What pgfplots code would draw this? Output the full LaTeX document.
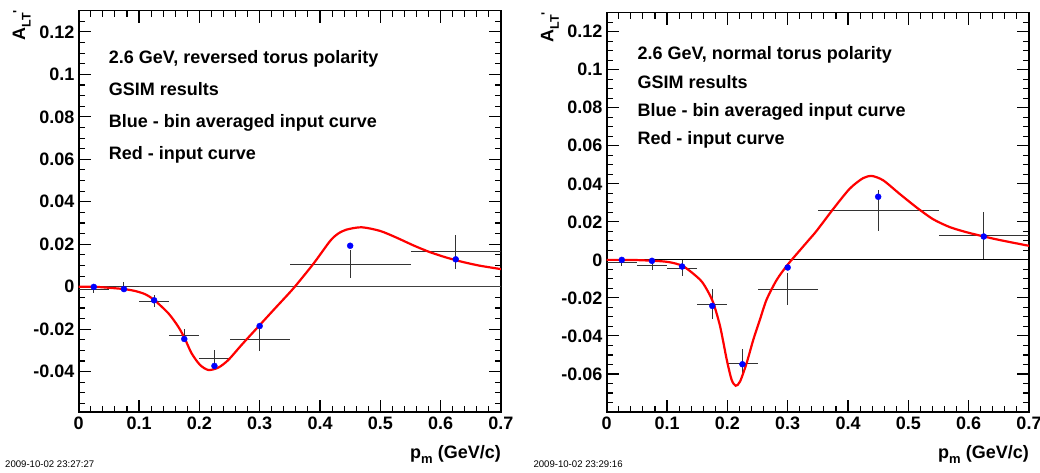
\documentclass[border=0pt]{standalone}
\usepackage{fontspec}
\setmainfont{Liberation Sans}
\usepackage{pgfplots}
\pgfplotsset{compat=1.18}
\usepackage{pgfplotstable}
\newcommand\bigb{\fontsize{18}{21}\selectfont\bfseries}
\newcommand\stamp{\fontsize{9.6}{11}\selectfont}

% ---- left pad: reversed torus polarity ----
\pgfplotstableread{
x y
0 0
0.025 -0.0000
0.05 -0.0005
0.075 -0.0011
0.0933 -0.0020
0.11 -0.0035
0.1254 -0.0063
0.1486 -0.0125
0.165 -0.0188
0.1762 -0.0246
0.187 -0.0313
0.201 -0.0368
0.2149 -0.0392
0.2314 -0.0381
0.248 -0.0345
0.270 -0.0274
0.2977 -0.0188
0.3254 -0.0102
0.3558 -0.0008
0.389 0.0108
0.4166 0.0215
0.43 0.0250
0.444 0.0269
0.469 0.0280
0.4994 0.0263
0.527 0.0231
0.5546 0.0195
0.582 0.0163
0.61 0.0137
0.6375 0.0116
0.665 0.0099
0.7 0.0083
}\Lcurve
\pgfplotstableread{
x y
0.025 -0.0001
0.075 -0.0011
0.125 -0.0064
0.175 -0.0246
0.225 -0.0373
0.3 -0.0185
0.45 0.0193
0.625 0.0129
}\Lblue
\pgfplotstableread{
x y ex ey
0.025 -0.0011 0.025 0.0018
0.075 0.0003 0.025 0.0021
0.125 -0.0067 0.025 0.0028
0.175 -0.0229 0.025 0.0029
0.225 -0.0336 0.025 0.0040
0.3 -0.0246 0.05 0.0058
0.45 0.0107 0.1 0.0064
0.625 0.0165 0.075 0.0080
}\Lgsim

% ---- right pad: normal torus polarity ----
\pgfplotstableread{
x y
0 0
0.05 -0.0001
0.0995 -0.0010
0.127 -0.0034
0.1547 -0.0104
0.166 -0.0156
0.1767 -0.0226
0.188 -0.0350
0.199 -0.0525
0.207 -0.0630
0.2138 -0.0662
0.221 -0.0640
0.232 -0.0542
0.243 -0.0420
0.254 -0.0314
0.265 -0.0209
0.282 -0.0104
0.30 -0.0025
0.3204 0.0051
0.337 0.0112
0.348 0.0153
0.376 0.0270
0.403 0.0375
0.425 0.0430
0.44 0.0441
0.4585 0.0418
0.486 0.0346
0.514 0.0275
0.541 0.0214
0.569 0.0172
0.597 0.0145
0.624 0.0124
0.652 0.0104
0.7 0.0074
}\Rcurve
\pgfplotstableread{
x y
0.025 0.0000
0.075 -0.0005
0.125 -0.0035
0.175 -0.0242
0.225 -0.0549
0.3 -0.0040
0.45 0.0332
0.625 0.0123
}\Rblue
\pgfplotstableread{
x y ex ey
0.025 -0.0012 0.025 0.0018
0.075 -0.0027 0.025 0.0028
0.125 -0.0044 0.025 0.0042
0.175 -0.0233 0.025 0.0080
0.225 -0.0544 0.025 0.0077
0.3 -0.0153 0.05 0.0084
0.45 0.0261 0.1 0.0108
0.625 0.0129 0.075 0.0122
}\Rgsim

\pgfplotsset{
  rootpad/.style={
    scale only axis, width=422.3pt,
    anchor=south west,
    xmin=0, xmax=0.7,
    xtick={0,0.1,0.2,0.3,0.4,0.5,0.6,0.7},
    minor xtick={0,0.02,...,0.70},
    scaled ticks=false,
    tick align=inside,
    major tick length=12pt, minor tick length=6pt,
    axis line style={line width=1.6pt},
    tick style={black, line width=1.1pt},
    tick label style={font=\bigb},
    /pgf/number format/assume math mode=true,
    /pgf/number format/fixed,
    /pgf/number format/precision=2,
    yticklabel style={inner sep=0pt, xshift=-4pt},
    xticklabel style={inner sep=0pt, yshift=-4.5pt},
  },
  zeroline/.style={black!75, line width=1pt},
  gsim/.style={draw=none, mark=none, forget plot,
    error bars/.cd, x dir=both, x explicit, y dir=both, y explicit,
    error mark=none, error bar style={draw=black!80, solid, line width=0.9pt}},
  incurve/.style={red, line width=2.2pt, smooth, tension=0.45, mark=none},
  binav/.style={only marks, mark=*, mark size=3pt, color=blue, fill=blue},
}

\begin{document}
\begin{tikzpicture}
\useasboundingbox (0,0) rectangle (1040pt,472pt);

\begin{axis}[rootpad, at={(78.7pt,60pt)}, height=401.3pt,
  ymin=-0.059, ymax=0.13,
  ytick={-0.04,-0.02,0,0.02,0.04,0.06,0.08,0.1,0.12},
  minor ytick={-0.055,-0.05,...,0.13}]
\addplot[zeroline] coordinates {(0,0) (0.7,0)};
\addplot[gsim] table[x=x, y=y, x error=ex, y error=ey] {\Lgsim};
\addplot[incurve] table[x=x, y=y] {\Lcurve};
\addplot[binav] table[x=x, y=y] {\Lblue};
\end{axis}

\begin{axis}[rootpad, at={(606.7pt,60pt)}, height=399.3pt,
  ymin=-0.08, ymax=0.13,
  ytick={-0.06,-0.04,-0.02,0,0.02,0.04,0.06,0.08,0.1,0.12},
  minor ytick={-0.08,-0.075,...,0.13}]
\addplot[black, line width=1pt] coordinates {(0,0) (0.7,0)};
\addplot[gsim] table[x=x, y=y, x error=ex, y error=ey] {\Rgsim};
\addplot[incurve] table[x=x, y=y] {\Rcurve};
\addplot[binav] table[x=x, y=y] {\Rblue};
\end{axis}

% texts, left pad
\begin{scope}[every node/.style={inner sep=0pt, font=\bigb}]
\node[anchor=base west] at (108.7pt,408.7pt) {2.6 GeV, reversed torus polarity};
\node[anchor=base west] at (108.7pt,376.3pt) {GSIM results};
\node[anchor=base west] at (108.7pt,344.5pt) {Blue - bin averaged input curve};
\node[anchor=base west] at (108.7pt,312.7pt) {Red - input curve};
\node[anchor=base east] at (501pt,14pt) {p\raisebox{-5pt}{\fontsize{13}{13}\selectfont m} (GeV/c)};
\node[rotate=90, anchor=base east] at (25pt,462pt) {A\raisebox{-5.5pt}{\fontsize{12.5}{12.5}\selectfont LT}\raisebox{3pt}{\fontsize{13}{13}\selectfont\textquotesingle}};
\node[anchor=base west, font=\stamp] at (5pt,4.7pt) {2009-10-02 23:27:27};
% right pad
\node[anchor=base west] at (637.3pt,412pt) {2.6 GeV, normal torus polarity};
\node[anchor=base west] at (637.3pt,383.7pt) {GSIM results};
\node[anchor=base west] at (637.3pt,355.3pt) {Blue - bin averaged input curve};
\node[anchor=base west] at (637.3pt,327pt) {Red - input curve};
\node[anchor=base east] at (1029pt,14pt) {p\raisebox{-5pt}{\fontsize{13}{13}\selectfont m} (GeV/c)};
\node[rotate=90, anchor=base east] at (553.3pt,460pt) {A\raisebox{-5.5pt}{\fontsize{12.5}{12.5}\selectfont LT}\raisebox{3pt}{\fontsize{13}{13}\selectfont\textquotesingle}};
\node[anchor=base west, font=\stamp] at (533.3pt,4.7pt) {2009-10-02 23:29:16};
\end{scope}
\end{tikzpicture}
\end{document}
